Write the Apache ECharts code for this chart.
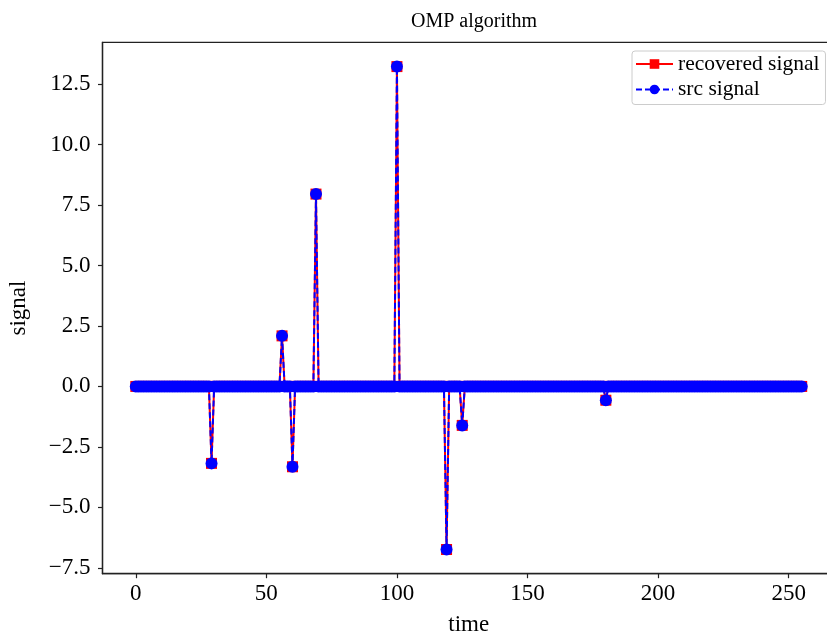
<!DOCTYPE html>
<html>
<head>
<meta charset="utf-8">
<script src="https://cdn.jsdelivr.net/npm/echarts@6/dist/echarts.min.js"></script>
<style>html,body{margin:0;padding:0;background:#fff}#c{width:827px;height:635px}</style>
</head>
<body>
<div id="c"></div>
<script>
// time axis: 256 samples (0..255), signal is zero except at the spikes below
const sampleCount = 256;
const spikeTimes = [29, 56, 60, 69, 100, 119, 125, 180];
const srcSpikeValues = [-3.18, 2.09, -3.32, 7.95, 13.22, -6.74, -1.61, -0.57];
const recoveredSpikeValues = [-3.18, 2.09, -3.32, 7.95, 13.22, -6.74, -1.61, -0.57];
const xTicks = [0, 50, 100, 150, 200, 250];
const yTicks = [-7.5, -5.0, -2.5, 0.0, 2.5, 5.0, 7.5, 10.0, 12.5];

function buildSeries(vals) {
  const out = [];
  for (let t = 0; t < sampleCount; t++) out.push([t, 0]);
  spikeTimes.forEach((t, i) => { out[t] = [t, vals[i]]; });
  return out;
}
const srcData = buildSeries(srcSpikeValues);
const recData = buildSeries(recoveredSpikeValues);

const FONT = '"Liberation Serif", "DejaVu Serif", serif';
const chart = echarts.init(document.getElementById('c'), null, {renderer: 'canvas'});
const minus = v => String(v).replace('-', '\u2212');
chart.setOption({
  animation: false,
  backgroundColor: '#fff',
  title: {
    text: 'OMP algorithm', left: 469, top: 7, textAlign: 'center',
    textStyle: {fontFamily: FONT, fontSize: 20, fontWeight: 'normal', color: '#000'}
  },
  legend: {
    left: 632, top: 51, orient: 'vertical',
    backgroundColor: '#fff', borderColor: '#ccc', borderWidth: 1, borderRadius: 3,
    padding: [2, 6, 4, 3], itemGap: 3.5, itemWidth: 37, itemHeight: 12,
    textStyle: {fontFamily: FONT, fontSize: 21.5, color: '#000'},
    data: ['recovered signal', 'src signal']
  },
  grid: {
    left: 102.5, top: 42.4, width: 732.5, height: 531.3,
    outerBoundsMode: 'none', containLabel: false,
    show: true, borderColor: '#222', borderWidth: 1.3, backgroundColor: 'transparent'
  },
  xAxis: {
    type: 'value', min: -12.75, max: 267.75,
    name: 'time', nameLocation: 'middle', nameGap: 40,
    nameTextStyle: {fontFamily: FONT, fontSize: 23, color: '#000'},
    axisLine: {show: true, onZero: false, lineStyle: {color: '#222', width: 1.3}},
    axisTick: {show: true, length: 4.5, lineStyle: {color: '#222', width: 1.2}, customValues: xTicks},
    axisLabel: {fontFamily: FONT, fontSize: 23, color: '#000', margin: 9, customValues: xTicks, formatter: v => minus(v)},
    splitLine: {show: false}
  },
  yAxis: {
    type: 'value', min: -7.74, max: 14.22,
    name: 'signal', nameLocation: 'middle', nameGap: 72,
    nameTextStyle: {fontFamily: FONT, fontSize: 23, color: '#000'},
    axisLine: {show: true, onZero: false, lineStyle: {color: '#222', width: 1.3}},
    axisTick: {show: true, length: 4.5, lineStyle: {color: '#222', width: 1.2}, customValues: yTicks},
    axisLabel: {fontFamily: FONT, fontSize: 23, color: '#000', margin: 12, customValues: yTicks, formatter: v => minus(v.toFixed(1))},
    splitLine: {show: false}
  },
  series: [
    {
      name: 'recovered signal', type: 'line', data: recData,
      symbol: 'rect', symbolSize: 11, showAllSymbol: true, showSymbol: true,
      lineStyle: {color: '#ff0000', width: 2}, itemStyle: {color: '#ff0000'},
      z: 2
    },
    {
      name: 'src signal', type: 'line', data: srcData,
      symbol: 'circle', symbolSize: 12, showAllSymbol: true, showSymbol: true,
      lineStyle: {color: '#0000ff', width: 2, type: [6, 3]}, itemStyle: {color: '#0000ff'},
      z: 3
    }
  ]
});
</script>
</body>
</html>
